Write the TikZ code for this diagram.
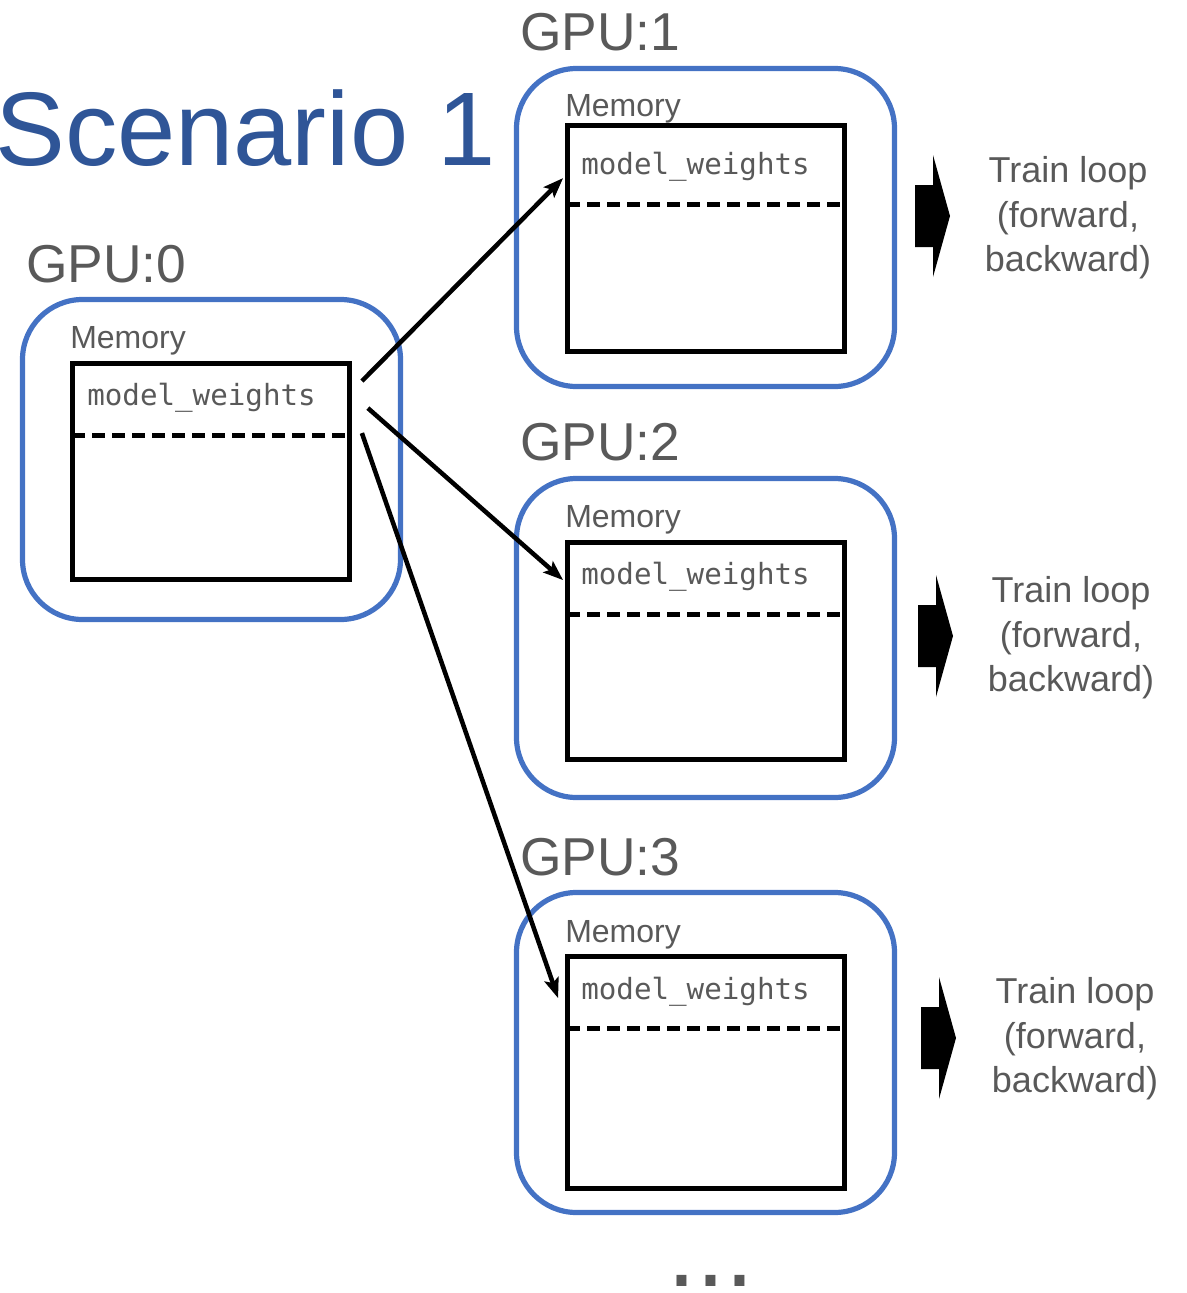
\documentclass[tikz,border=0pt]{standalone}
\usepackage{fontspec}
\setmainfont{Liberation Sans}
\newfontfamily\monof{DejaVu Sans Mono}
\usetikzlibrary{calc,arrows.meta}
\definecolor{gpublue}{HTML}{4472C4}
\definecolor{titleblue}{HTML}{2F5597}
\definecolor{txtgray}{HTML}{595959}
\newdimen\px \px=0.75pt
\tikzset{
  gpubox/.style={draw=gpublue, line width=3.9pt, rounded corners=45pt, minimum width=378\px, inner sep=0},
  membox/.style={draw=black, line width=3.6pt, minimum width=277\px, inner sep=0},
  gpulabel/.style={anchor=base west, inner sep=0, text=txtgray, font=\fontsize{40pt}{44pt}\selectfont},
  memlabel/.style={anchor=base west, inner sep=0, text=txtgray, font=\fontsize{24pt}{28pt}\selectfont},
  wlabel/.style={anchor=base west, inner sep=0, text=txtgray, font=\monof\fontsize{21.9pt}{25pt}\selectfont},
  dashline/.style={line width=3.6pt, dash pattern=on 10pt off 5pt},
  conn/.style={line width=3.4pt, -{Stealth[length=15pt, width=11pt, inset=3pt]}},
  trainlbl/.style={align=center, inner sep=0, text=txtgray, font=\fontsize{27pt}{33.5pt}\selectfont},
  blockarrow/.style={fill=black, draw=none},
}
\begin{document}
\begin{tikzpicture}[x=0.75pt, y=-0.75pt]
\useasboundingbox (0,0) rectangle (1186,1293);

% title
\node[anchor=base west, inner sep=0, text=titleblue, font=\fontsize{78.5pt}{90pt}\selectfont] (title) at (-5,165) {Scenario 1};

% GPU:0
\node[gpulabel] (l0) at (26,282) {GPU:0};
\node[gpubox, minimum height=320\px] (g0) at (211.5,459.5) {};
\node[memlabel] (mm0) at (70,348) {Memory};
\node[membox, minimum height=216\px] (m0) at (211,471.5) {};
\node[wlabel] (w0) at (87,405) {model\_weights};
\draw[dashline] ($(m0.north west)+(2,74)$) -- ($(m0.north east)+(-7,74)$);

% GPU:1
\node[gpulabel] (l1) at (520,50) {GPU:1};
\node[gpubox, minimum height=318\px] (g1) at (705.5,227.5) {};
\node[memlabel] (mm1) at (565,116) {Memory};
\node[membox, minimum height=226\px] (m1) at (706,238.5) {};
\node[wlabel] (w1) at (581,174) {model\_weights};
\draw[dashline] ($(m1.north west)+(2,81)$) -- ($(m1.north east)+(-7,81)$);

% GPU:2
\node[gpulabel] (l2) at (520,460) {GPU:2};
\node[gpubox, minimum height=319\px] (g2) at (705.5,638) {};
\node[memlabel] (mm2) at (565,527) {Memory};
\node[membox, minimum height=217\px] (m2) at (706,651) {};
\node[wlabel] (w2) at (581,584) {model\_weights};
\draw[dashline] ($(m2.north west)+(2,74)$) -- ($(m2.north east)+(-7,74)$);

% GPU:3
\node[gpulabel] (l3) at (520,875) {GPU:3};
\node[gpubox, minimum height=320\px] (g3) at (705.5,1052.5) {};
\node[memlabel] (mm3) at (565,942) {Memory};
\node[membox, minimum height=232\px] (m3) at (706,1072.5) {};
\node[wlabel] (w3) at (581,999) {model\_weights};
\draw[dashline] ($(m3.north west)+(2,74)$) -- ($(m3.north east)+(-7,74)$);

% connectors
\draw[conn] ($(m0.north east)+(10,20)$) -- ($(m1.north west)+(-2,55)$);
\draw[conn] ($(m0.north east)+(16,47)$) -- ($(m2.north west)+(-2,40)$);
\draw[conn] ($(m0.north east)+(10,72)$) -- ($(m3.north west)+(-7,44)$);

% train loop labels
\node[trainlbl] (t1) at (1068,218) {Train loop\\(forward,\\backward)};
\node[trainlbl] (t2) at (1071,638) {Train loop\\(forward,\\backward)};
\node[trainlbl] (t3) at (1075,1039) {Train loop\\(forward,\\backward)};

% block arrows
\fill[blockarrow] (915,185) -- (933,185) -- (933,155) -- (950,216) -- (933,277) -- (933,247) -- (915,247) -- cycle;
\fill[blockarrow] (918,605) -- (936,605) -- (936,575) -- (953,636) -- (936,697) -- (936,667) -- (918,667) -- cycle;
\fill[blockarrow] (921,1007) -- (939,1007) -- (939,977) -- (956,1038) -- (939,1099) -- (939,1069) -- (921,1069) -- cycle;

% ellipsis
\node[anchor=base west, inner sep=0, text=txtgray, font=\fontsize{78pt}{84pt}\selectfont] (dots) at (667,1286) {...};
\end{tikzpicture}
\end{document}
